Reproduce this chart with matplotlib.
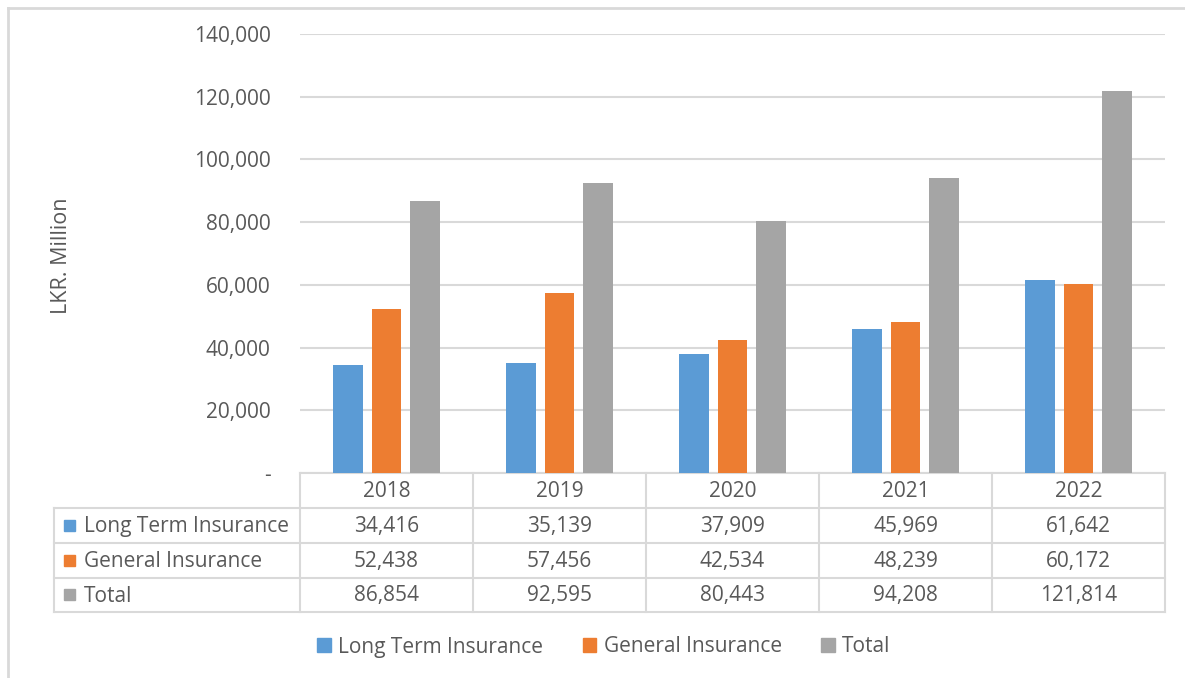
import matplotlib
matplotlib.use("Agg")
import matplotlib.pyplot as plt
from matplotlib.patches import Patch, Rectangle
from matplotlib.lines import Line2D
from matplotlib.transforms import Affine2D, blended_transform_factory

# Data
years = ["2018", "2019", "2020", "2021", "2022"]
series_names = ["Long Term Insurance", "General Insurance", "Total"]
long_term = [34416, 35139, 37909, 45969, 61642]
general = [52438, 57456, 42534, 48239, 60172]
total = [86854, 92595, 80443, 94208, 121814]
y_ticks = [0, 20000, 40000, 60000, 80000, 100000, 120000, 140000]

colors = ["#5B9BD5", "#ED7D31", "#A5A5A5"]
text_color = "#595959"
line_color = "#D9D9D9"

plt.rcParams["font.family"] = ["Open Sans", "DejaVu Sans"]

W, H = 1185, 678
fig = plt.figure(figsize=(W / 100, H / 100), dpi=100)

# pixel coordinates measured from the top-left corner
pix = Affine2D().scale(1, -1).translate(0, H).scale(1 / W, 1 / H) + fig.transFigure

ax_left, ax_right, ax_top, ax_bottom = 300, 1165, 34, 473
ax = fig.add_axes([ax_left / W, (H - ax_bottom) / H,
                   (ax_right - ax_left) / W, (ax_bottom - ax_top) / H])

n = len(years)
x = list(range(n))
bar_w = 0.173
offsets = [-0.2225, 0.0, 0.2225]
for vals, off, c, name in zip([long_term, general, total], offsets, colors, series_names):
    ax.bar([i + off for i in x], vals, width=bar_w, color=c, label=name, zorder=3)

fs = 15

ax.set_xlim(-0.5, n - 0.5)
ax.set_ylim(0, 140000)
ax.set_yticks(y_ticks)
ax.set_yticklabels(["-" if v == 0 else f"{v:,.0f}" for v in y_ticks])
ax.set_xticks([])
ax.yaxis.grid(True, color=line_color, linewidth=1.5, zorder=0)
for s in ax.spines.values():
    s.set_visible(False)
ax.tick_params(axis="y", length=0, pad=21, labelsize=fs, labelcolor=text_color)

fig.text(62 / W, (H - 256) / H, "LKR. Million", rotation=90, ha="center", va="center",
         fontsize=fs + 0.5, color=text_color)

# Data table beneath the plot
tx = blended_transform_factory(ax.transData, pix)
row_y = [473, 508, 543, 578, 612]
lw = 1.5
left_px = 54
table_left = ax.transData.inverted().transform(
    fig.transFigure.transform((left_px / W, 0)))[0]
# horizontal rules
ax.add_line(Line2D([-0.5, n - 0.5], [row_y[0]] * 2, transform=tx, color=line_color,
                   lw=lw, clip_on=False))
for yy in row_y[1:]:
    ax.add_line(Line2D([table_left, n - 0.5], [yy] * 2, transform=tx, color=line_color,
                       lw=lw, clip_on=False))
# vertical rules
for k in range(n + 1):
    ax.add_line(Line2D([k - 0.5] * 2, [row_y[0], row_y[-1]], transform=tx,
                       color=line_color, lw=lw, clip_on=False))
ax.add_line(Line2D([table_left] * 2, [row_y[1], row_y[-1]], transform=tx,
                   color=line_color, lw=lw, clip_on=False))

for i, yr in enumerate(years):
    ax.text(i, (row_y[0] + row_y[1]) / 2 + 1, yr, transform=tx, ha="center", va="center",
            fontsize=fs, color=text_color)

rows = [long_term, general, total]
for r, (vals, name, c) in enumerate(zip(rows, series_names, colors)):
    yc = (row_y[r + 1] + row_y[r + 2]) / 2
    fig.add_artist(Rectangle((64, yc + 5), 11, -11, transform=pix, color=c))
    fig.text(84, yc + 1, name, transform=pix, ha="left", va="center", fontsize=fs,
             color=text_color)
    for i, v in enumerate(vals):
        ax.text(i, yc + 1, f"{v:,.0f}", transform=tx, ha="center", va="center",
                fontsize=fs, color=text_color)

# Legend
handles = [Patch(color=c, label=nm) for c, nm in zip(colors, series_names)]
fig.legend(handles=handles, loc="center", bbox_to_anchor=(604 / W, (H - 647) / H), ncol=3,
           frameon=False, fontsize=fs, handlelength=0.65, handleheight=0.65,
           handletextpad=0.35, columnspacing=1.9, labelcolor=text_color)

# Outer chart border
fig.add_artist(Line2D([8, W + 5], [8, 8], transform=pix, color=line_color, lw=2))
fig.add_artist(Line2D([8, 8], [8, H + 5], transform=pix, color=line_color, lw=2))

fig.savefig("out.png", dpi=100, facecolor="white")
